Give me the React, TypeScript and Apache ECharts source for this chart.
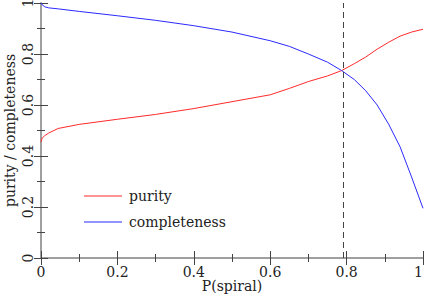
import React, { useEffect, useRef } from "react";
import * as echarts from "echarts";

const pSpiral = [0, 0.003, 0.01, 0.02, 0.045, 0.1, 0.2, 0.3, 0.4, 0.5, 0.6, 0.65, 0.7, 0.75, 0.787, 0.82, 0.85, 0.88, 0.91, 0.94, 0.97, 1.0];
const purity = [0.455, 0.47, 0.48, 0.49, 0.508, 0.524, 0.544, 0.563, 0.586, 0.613, 0.64, 0.665, 0.692, 0.714, 0.735, 0.762, 0.788, 0.819, 0.846, 0.87, 0.886, 0.897];
const completeness = [1.0, 0.993, 0.985, 0.981, 0.977, 0.967, 0.95, 0.932, 0.911, 0.886, 0.852, 0.83, 0.8, 0.768, 0.735, 0.7, 0.656, 0.6, 0.525, 0.436, 0.318, 0.195];
const cutValue = 0.787;
const seriesNames = ["purity", "completeness"];

const FONT = "DejaVu Serif";

export default function App() {
  const ref = useRef<HTMLDivElement>(null);
  useEffect(() => {
    if (!ref.current) return;
    const chart = echarts.init(ref.current, undefined, { renderer: "svg" });
    const axisLine = { show: true, lineStyle: { color: "#999", width: 1.5 } };
    const tick = { show: true, inside: true, length: 7, lineStyle: { color: "#444", width: 1 } };
    const minor = { show: true, splitNumber: 2, length: 4, lineStyle: { color: "#444", width: 1 } };
    const labelStyle = { color: "#222", fontFamily: FONT, fontSize: 14 };
    chart.setOption({
      animation: false,
      backgroundColor: "#fff",
      grid: { left: 41, right: 2, top: 3, bottom: 47, containLabel: false, outerBoundsMode: "none" },
      legend: {
        left: 79,
        top: 184,
        orient: "vertical",
        icon: "rect",
        itemWidth: 38,
        itemHeight: 1,
        itemGap: 12,
        textStyle: { ...labelStyle, padding: [0, 0, 0, 2] },
        data: seriesNames,
      },
      xAxis: [
        {
          type: "value",
          min: 0,
          max: 1,
          interval: 0.2,
          position: "bottom",
          axisLine,
          axisTick: tick,
          minorTick: minor,
          splitLine: { show: false },
          axisLabel: { ...labelStyle, margin: 7, showMaxLabel: true, alignMaxLabel: "right" },
          name: "P(spiral)",
          nameLocation: "middle",
          nameGap: 21,
          nameMoveOverlap: false,
          nameTextStyle: labelStyle,
        },
        {
          type: "value",
          min: 0,
          max: 1,
          interval: 0.2,
          position: "top",
          axisLine,
          axisTick: tick,
          minorTick: minor,
          splitLine: { show: false },
          axisLabel: { show: false },
        },
      ],
      yAxis: [
        {
          type: "value",
          min: 0,
          max: 1,
          interval: 0.2,
          position: "left",
          axisLine,
          axisTick: tick,
          minorTick: minor,
          splitLine: { show: false },
          axisLabel: { ...labelStyle, rotate: 90, margin: 6 },
          name: "purity / completeness",
          nameLocation: "middle",
          nameGap: 24,
          nameMoveOverlap: false,
          nameRotate: 90,
          nameTextStyle: labelStyle,
        },
        {
          type: "value",
          min: 0,
          max: 1,
          interval: 0.2,
          position: "right",
          axisLine,
          axisTick: tick,
          minorTick: minor,
          splitLine: { show: false },
          axisLabel: { show: false },
        },
      ],
      series: [
        {
          name: seriesNames[0],
          type: "line",
          data: pSpiral.map((x, i) => [x, purity[i]]),
          showSymbol: false,
          symbol: "none",
          smooth: false,
          lineStyle: { color: "#ff2a2a", width: 1 },
          itemStyle: { color: "#ff2a2a" },
          markLine: {
            silent: true,
            symbol: "none",
            label: { show: false },
            lineStyle: { color: "#444", type: [6, 4], width: 1 },
            data: [{ xAxis: cutValue }],
          },
        },
        {
          name: seriesNames[1],
          type: "line",
          data: pSpiral.map((x, i) => [x, completeness[i]]),
          showSymbol: false,
          symbol: "none",
          smooth: false,
          lineStyle: { color: "#2a2aff", width: 1 },
          itemStyle: { color: "#2a2aff" },
        },
      ],
    });
    return () => chart.dispose();
  }, []);
  return (
    <div
      ref={ref}
      style={{ position: "absolute", left: 0, top: 0, width: 425, height: 305 }}
    />
  );
}
